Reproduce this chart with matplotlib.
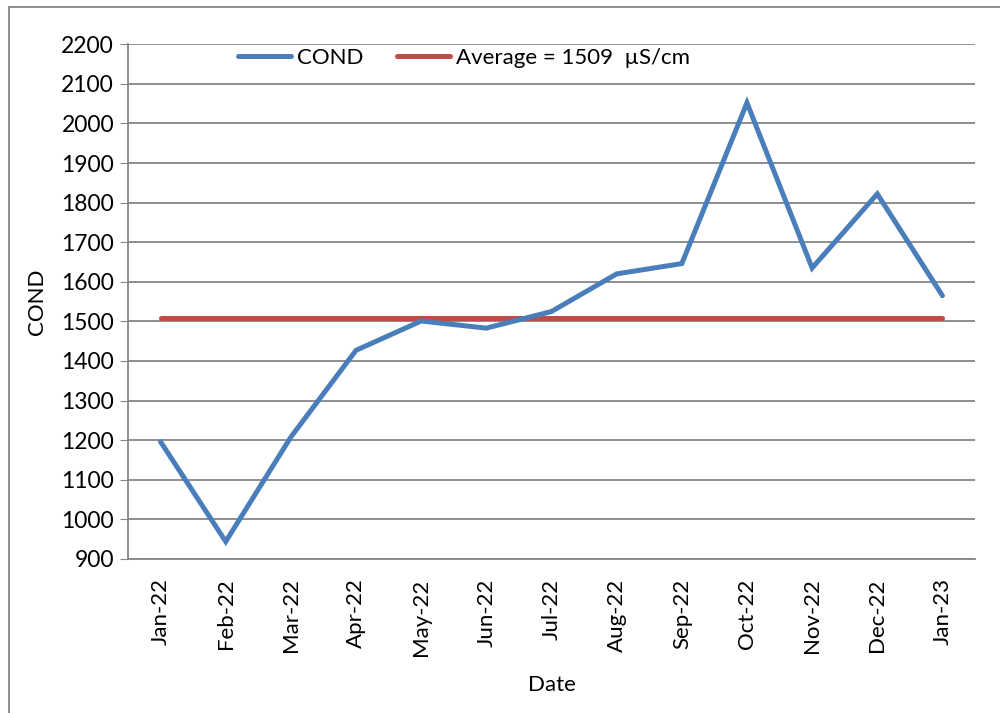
import matplotlib
matplotlib.use("Agg")
import matplotlib.pyplot as plt
from matplotlib.patches import Rectangle

months = ["Jan-22", "Feb-22", "Mar-22", "Apr-22", "May-22", "Jun-22", "Jul-22",
          "Aug-22", "Sep-22", "Oct-22", "Nov-22", "Dec-22", "Jan-23"]
cond = [1196, 944, 1208, 1427, 1501, 1483, 1525, 1620, 1646, 2052, 1635, 1822, 1565]
average = 1509
yticks = list(range(900, 2201, 100))

plt.rcParams['font.family'] = ['Lato', 'DejaVu Sans']

fig = plt.figure(figsize=(10, 7.13), dpi=100)
ax = fig.add_axes([0.128, 1 - 0.784, 0.847, 0.722])

x = list(range(len(months)))
ax.plot(x, cond, color="#4a7ebb", lw=3.6, solid_capstyle="round", solid_joinstyle="miter",
        label="COND", zorder=3)
ax.plot(x, [average] * len(x), color="#be4b48", lw=3.6, solid_capstyle="round",
        label="Average = 1509  \u00b5S/cm", zorder=2)

ax.set_xlim(-0.5, len(months) - 0.5)
ax.set_ylim(900, 2200)
ax.set_yticks(yticks)
ax.set_xticks(x)
ax.set_xticklabels(months, rotation=90, fontsize=16)
ax.tick_params(axis='y', labelsize=16.5, length=6, color="#868686", pad=4)
ax.tick_params(axis='x', length=0, pad=14)
ax.grid(axis='y', color="#868686", lw=1.3)
ax.set_axisbelow(True)
for s in ["top", "right"]:
    ax.spines[s].set_visible(False)
for s in ["left", "bottom"]:
    ax.spines[s].set_color("#868686")
    ax.spines[s].set_linewidth(1.3)

ax.set_ylabel("COND", fontsize=16, labelpad=10)
ax.set_xlabel("Date", fontsize=16, labelpad=14)

leg = ax.legend(loc="upper left", bbox_to_anchor=(0.114, 1.018), ncol=2, frameon=False,
                fontsize=16, handlelength=2.4, handletextpad=0.25, columnspacing=1.5,
                borderaxespad=0.2)

fig.patches.append(Rectangle((0.009, -0.1), 1.2, 1.09, transform=fig.transFigure,
                             fill=False, edgecolor="#868686", lw=1.3))

fig.savefig("out.png", dpi=100)
